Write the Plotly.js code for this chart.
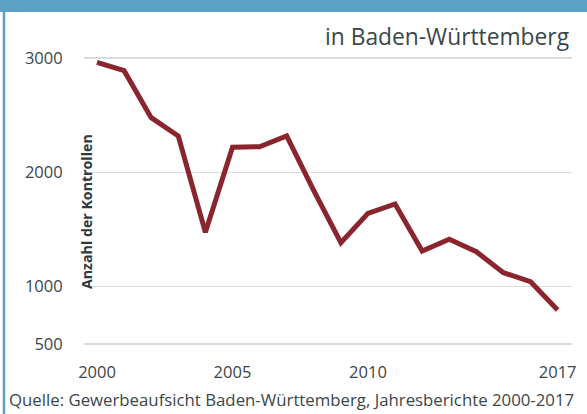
<!DOCTYPE html>
<html>
<head>
<meta charset="utf-8">
<script src="https://cdn.plot.ly/plotly-3.0.1.min.js"></script>
<style>
html,body{margin:0;padding:0;background:#fff;}
#chart{width:587px;height:414px;}
</style>
</head>
<body>
<div id="chart"></div>
<script>
const years = [2000,2001,2002,2003,2004,2005,2006,2007,2008,2009,2010,2011,2012,2013,2014,2015,2016,2017];
const kontrollen = [2962,2889,2478,2318,1475,2219,2224,2318,1840,1384,1641,1723,1311,1414,1305,1122,1043,795];
const yTicks = [500,1000,2000,3000];
const xTicks = [2000,2005,2010,2017];
const titleText = 'in Baden-Württemberg';
const yTitle = 'Anzahl der Kontrollen';
const sourceText = 'Quelle: Gewerbeaufsicht Baden-Württemberg, Jahresberichte 2000-2017';

const W = 587, H = 414;
const m = {l:84, r:15, t:50, b:62};
const pw = W - m.l - m.r, ph = H - m.t - m.b;
const px = x => (x - m.l) / pw;
const py = y => (H - m.b - y) / ph;

const textColor = '#3b4649';
const blue = '#5ba1c6';
const font = 'Open Sans, Noto Sans, sans-serif';

const data = [{
  type:'scatter', mode:'lines',
  x: years, y: kontrollen,
  line:{color:'#8a252e', width:5, shape:'linear'},
  hoverinfo:'skip'
}];

const layout = {
  width: W, height: H,
  margin: m,
  paper_bgcolor:'#ffffff', plot_bgcolor:'#ffffff',
  showlegend:false,
  font:{family:font, color:textColor},
  xaxis:{
    range:[1999.52, 2017.53],
    tickvals: xTicks, ticktext: xTicks.map(String),
    showgrid:false, zeroline:false, showline:false,
    ticks:'outside', ticklen:5, tickcolor:'rgba(0,0,0,0)',
    tickfont:{size:16.5, color:textColor, family:font}
  },
  yaxis:{
    range:[428, 3070],
    tickvals: yTicks, ticktext: yTicks.map(String),
    showgrid:true, gridcolor:'#dcdcdc', gridwidth:1.5,
    zeroline:false, showline:false,
    ticks:'outside', ticklen:17, tickcolor:'rgba(0,0,0,0)',
    tickfont:{size:16.5, color:textColor, family:font}
  },
  shapes:[
    {type:'rect', xref:'paper', yref:'paper', x0:px(0), x1:px(W), y0:py(12), y1:py(0),
     fillcolor:blue, line:{width:0}, layer:'above'},
    {type:'line', xref:'paper', yref:'paper', x0:px(4), x1:px(4), y0:py(H), y1:py(0),
     line:{color:blue, width:2.5}}
  ],
  annotations:[
    {text:titleText, xref:'paper', yref:'paper', x:px(571), y:py(37), xanchor:'right', yanchor:'middle',
     showarrow:false, font:{size:22.8, color:textColor, family:font}},
    {text:'<b>'+yTitle+'</b>', xref:'paper', yref:'paper', x:px(86), y:py(212), xanchor:'center', yanchor:'middle',
     textangle:-90, showarrow:false, font:{size:14.2, color:'#2e3a3d', family:font}},
    {text:sourceText, xref:'paper', yref:'paper', x:px(7), y:py(399), xanchor:'left', yanchor:'middle',
     showarrow:false, font:{size:16.8, color:textColor, family:font}}
  ]
};

Plotly.newPlot('chart', data, layout, {staticPlot:true, displayModeBar:false});
</script>
</body>
</html>
